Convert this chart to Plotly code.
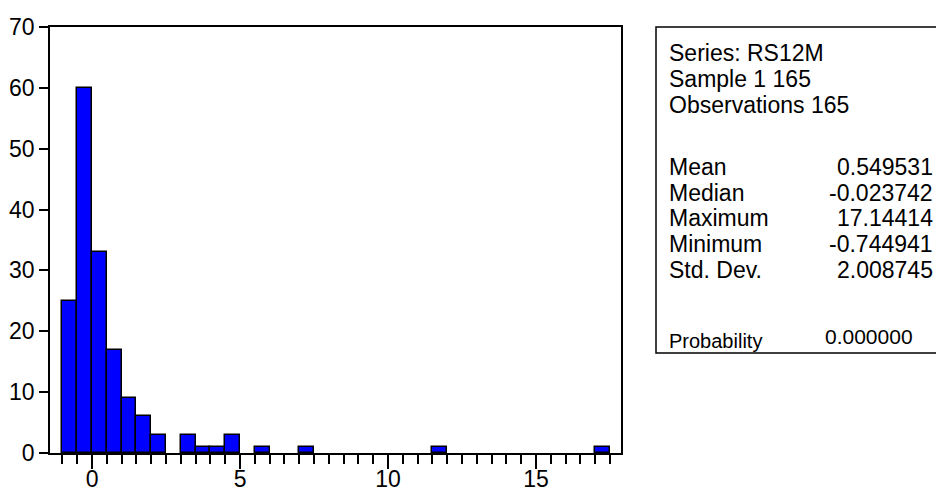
import plotly.graph_objects as go

# ---- data ----
bin_start = [-1.0 + 0.5 * i for i in range(37)]
counts = [25, 60, 33, 17, 9, 6, 3, 0, 3, 1, 1, 3, 0, 1, 0, 0, 1, 0, 0, 0,
          0, 0, 0, 0, 0, 1, 0, 0, 0, 0, 0, 0, 0, 0, 0, 0, 1]
bin_width = 0.5
x_tickvals = [0, 5, 10, 15]
y_tickvals = [0, 10, 20, 30, 40, 50, 60, 70]

header_lines = ["Series: RS12M", "Sample 1 165", "Observations 165"]
stat_names = ["Mean", "Median", "Maximum", "Minimum", "Std. Dev."]
stat_values = ["0.549531", "-0.023742", "17.14414", "-0.744941", "2.008745"]
prob_name = "Probability"
prob_value = "0.000000"

W, H = 936, 491
FONT = "Liberation Sans, Arial, sans-serif"
FS = 23

bx = [b + bin_width / 2 for b, c in zip(bin_start, counts) if c > 0]
by = [c for c in counts if c > 0]

fig = go.Figure()
fig.add_trace(go.Bar(
    x=bx, y=by, width=bin_width,
    marker=dict(color="#0000FF", line=dict(color="black", width=1.5)),
    hoverinfo="x+y",
))

def px_x(p):
    return p / W

def px_y(p):
    return 1 - p / H

fig.update_layout(
    width=W, height=H,
    margin=dict(l=0, r=0, t=0, b=0),
    paper_bgcolor="white", plot_bgcolor="white",
    showlegend=False, bargap=0,
    font=dict(family=FONT, size=FS, color="black"),
    xaxis=dict(
        domain=[px_x(50), px_x(621)],
        range=[-1.42, 17.87],
        automargin=False,
        tickvals=x_tickvals, ticks="outside", ticklen=14, tickwidth=1.5,
        tickcolor="black", ticklabelstandoff=-9,
        minor=dict(tick0=-1, dtick=0.5, ticks="outside", ticklen=9,
                   tickwidth=1.5, tickcolor="black", showgrid=False),
        showgrid=False, zeroline=False,
        showline=True, linecolor="black", linewidth=1.5, mirror=True,
        tickfont=dict(family=FONT, size=FS, color="black"),
        fixedrange=True,
    ),
    yaxis=dict(
        domain=[px_y(453), px_y(27)],
        range=[0, 70],
        automargin=False,
        tickvals=y_tickvals, ticks="outside", ticklen=9, tickwidth=1.5,
        tickcolor="black",
        showgrid=False, zeroline=False,
        showline=True, linecolor="black", linewidth=1.5, mirror=True,
        tickfont=dict(family=FONT, size=FS, color="black"),
        fixedrange=True,
    ),
)

# stats box
fig.add_shape(type="rect", xref="paper", yref="paper",
              x0=px_x(656), x1=px_x(945), y0=px_y(353), y1=px_y(27),
              line=dict(color="black", width=1.5), fillcolor="rgba(0,0,0,0)")

def add_text(text, xpix, ypix, anchor, size):
    fig.add_annotation(text=text, xref="paper", yref="paper",
                       x=px_x(xpix), y=px_y(ypix), xanchor=anchor,
                       yanchor="middle", showarrow=False,
                       font=dict(family=FONT, size=size, color="black"))

LEFT_X = 667
RIGHT_X = 935
header_y = [53, 79, 105]
for t, yy in zip(header_lines, header_y):
    add_text(t, LEFT_X, yy, "left", FS)

stat_y = [167, 192.7, 218.4, 244, 269.8]
for n, v, yy in zip(stat_names, stat_values, stat_y):
    add_text(n, LEFT_X, yy, "left", FS)
    add_text(v, RIGHT_X, yy, "right", FS)

add_text(prob_name, LEFT_X, 341, "left", 20)
add_text(prob_value, 823, 336, "left", 21)

fig.write_html("out.html")
